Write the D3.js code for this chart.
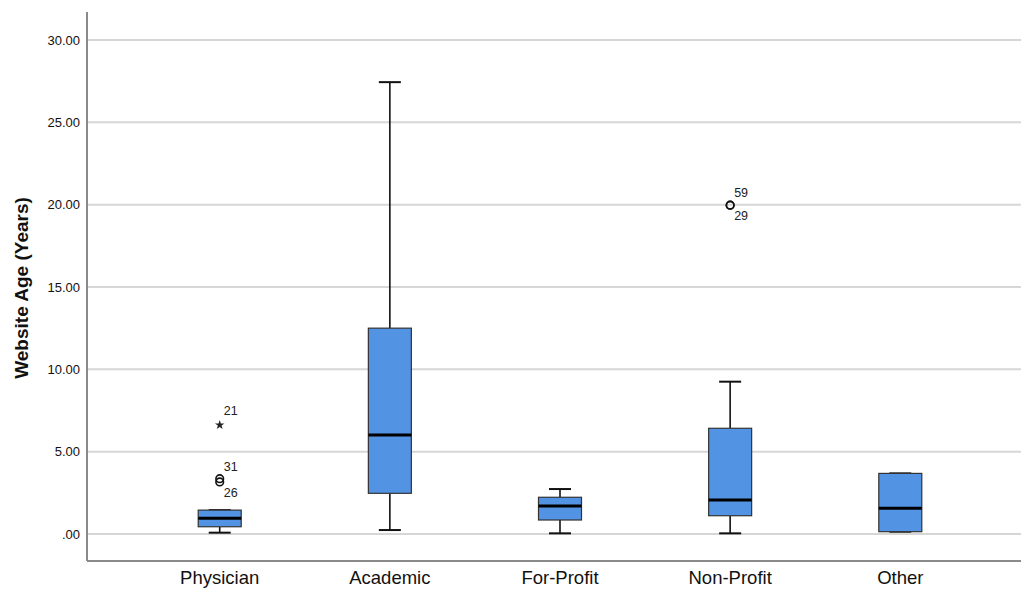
<!DOCTYPE html>
<html>
<head>
<meta charset="utf-8">
<script src="https://cdn.jsdelivr.net/npm/d3@7"></script>
<style>
  html, body { margin: 0; padding: 0; background: #fff; }
  svg { display: block; }
</style>
</head>
<body>
<svg id="chart" width="1021" height="591"></svg>
<script>
// ---- Data ----
const categories = ["Physician", "Academic", "For-Profit", "Non-Profit", "Other"];
const whiskerLow  = [0.08, 0.24, 0.04, 0.04, 0.14];
const q1          = [0.44, 2.47, 0.85, 1.11, 0.14];
const median      = [0.95, 6.01, 1.70, 2.06, 1.56];
const q3          = [1.45, 12.50, 2.23, 6.42, 3.68];
const whiskerHigh = [1.45, 27.44, 2.73, 9.25, 3.68];

const outlierCategory = ["Physician", "Physician", "Physician", "Non-Profit", "Non-Profit"];
const outlierValue    = [6.62, 3.36, 3.16, 19.97, 19.97];
const outlierType     = ["extreme", "outlier", "outlier", "outlier", "outlier"];
const outlierLabel    = ["21", "31", "26", "59", "29"];

const yTicks = [0, 5, 10, 15, 20, 25, 30];
const yTitle = "Website Age (Years)";

// ---- Layout ----
const W = 1021, H = 591;
const plot = { left: 87, right: 1033, top: 12, bottom: 561 };

const svg = d3.select("#chart");

const x = d3.scaleBand()
  .domain(categories)
  .range([plot.left, plot.right])
  .paddingInner(0)
  .paddingOuter(0.28);

const y = d3.scaleLinear()
  .domain([-1.64, 31.7])
  .range([plot.bottom, plot.top]);

const boxW = 43, capW = 22;
const fmt = v => { const s = d3.format(".2f")(v); return s.startsWith("0.") ? s.slice(1) : s; };

// gridlines
svg.append("g")
  .selectAll("line")
  .data(yTicks)
  .join("line")
  .attr("x1", plot.left + 1).attr("x2", W)
  .attr("y1", d => y(d)).attr("y2", d => y(d))
  .attr("stroke", "#d6d6d6").attr("stroke-width", 2);

// y axis
const yAxis = d3.axisLeft(y).tickValues(yTicks).tickFormat(fmt).tickSize(0).tickPadding(7);
const gy = svg.append("g").attr("transform", `translate(${plot.left},0)`).call(yAxis);
gy.select(".domain").remove();
gy.selectAll("text")
  .attr("font-family", "Liberation Sans, Arial, sans-serif")
  .attr("font-size", 13).attr("fill", "#111");

// axis lines
svg.append("line")
  .attr("x1", plot.left).attr("x2", plot.left)
  .attr("y1", plot.top).attr("y2", plot.bottom)
  .attr("stroke", "#8a8a8a").attr("stroke-width", 2);
svg.append("line")
  .attr("x1", plot.left).attr("x2", W)
  .attr("y1", plot.bottom).attr("y2", plot.bottom)
  .attr("stroke", "#8a8a8a").attr("stroke-width", 2);

// x axis labels
const xAxis = d3.axisBottom(x).tickSize(0).tickPadding(10);
const gx = svg.append("g").attr("transform", `translate(0,${plot.bottom})`).call(xAxis);
gx.select(".domain").remove();
gx.selectAll("text")
  .attr("font-family", "Liberation Sans, Arial, sans-serif")
  .attr("font-size", 18.5).attr("fill", "#111");

// y title
svg.append("text")
  .attr("transform", `translate(28,${(y(0) + y(30)) / 2 + 1}) rotate(-90)`)
  .attr("text-anchor", "middle")
  .attr("font-family", "Liberation Sans, Arial, sans-serif")
  .attr("font-weight", "bold")
  .attr("font-size", 19)
  .attr("fill", "#111")
  .text(yTitle);

// boxes
const boxes = categories.map((c, i) => ({
  c, lo: whiskerLow[i], q1: q1[i], med: median[i], q3: q3[i], hi: whiskerHigh[i]
}));
const cx = d => x(d.c) + x.bandwidth() / 2;

const gb = svg.append("g");
gb.selectAll(".stem-lo").data(boxes).join("line")
  .attr("x1", cx).attr("x2", cx)
  .attr("y1", d => y(d.lo)).attr("y2", d => y(d.q1))
  .attr("stroke", "#111").attr("stroke-width", 1.6);
gb.selectAll(".stem-hi").data(boxes).join("line")
  .attr("x1", cx).attr("x2", cx)
  .attr("y1", d => y(d.hi)).attr("y2", d => y(d.q3))
  .attr("stroke", "#111").attr("stroke-width", 1.6);
gb.selectAll(".cap-lo").data(boxes).join("line")
  .attr("x1", d => cx(d) - capW / 2).attr("x2", d => cx(d) + capW / 2)
  .attr("y1", d => y(d.lo)).attr("y2", d => y(d.lo))
  .attr("stroke", "#111").attr("stroke-width", 2);
gb.selectAll(".cap-hi").data(boxes).join("line")
  .attr("x1", d => cx(d) - capW / 2).attr("x2", d => cx(d) + capW / 2)
  .attr("y1", d => y(d.hi)).attr("y2", d => y(d.hi))
  .attr("stroke", "#111").attr("stroke-width", 2);
gb.selectAll(".box").data(boxes).join("rect")
  .attr("x", d => cx(d) - boxW / 2)
  .attr("width", boxW)
  .attr("y", d => y(d.q3))
  .attr("height", d => y(d.q1) - y(d.q3))
  .attr("fill", "#5393e3")
  .attr("stroke", "#333").attr("stroke-width", 1.2);
gb.selectAll(".med").data(boxes).join("line")
  .attr("x1", d => cx(d) - boxW / 2).attr("x2", d => cx(d) + boxW / 2)
  .attr("y1", d => y(d.med)).attr("y2", d => y(d.med))
  .attr("stroke", "#000").attr("stroke-width", 3);

// outliers
const outs = outlierValue.map((v, i) => ({
  c: outlierCategory[i], v, type: outlierType[i], label: outlierLabel[i], i
}));
outs.forEach(o => {
  const mates = outs.filter(p => p !== o && p.c === o.c && Math.abs(p.v - o.v) < 1);
  if (mates.length === 0) { o.pos = "above"; return; }
  const m = mates[0];
  o.pos = (o.v > m.v || (o.v === m.v && o.i < m.i)) ? "above" : "below";
});

const go = svg.append("g");
go.selectAll("circle").data(outs.filter(o => o.type === "outlier")).join("circle")
  .attr("cx", d => cx(d)).attr("cy", d => y(d.v)).attr("r", 3.8)
  .attr("fill", "none").attr("stroke", "#111").attr("stroke-width", 1.6);
go.selectAll(".star").data(outs.filter(o => o.type === "extreme")).join("path")
  .attr("transform", d => `translate(${cx(d)},${y(d.v)})`)
  .attr("d", d3.symbol(d3.symbolStar, 28))
  .attr("fill", "#222");
go.selectAll("text").data(outs).join("text")
  .attr("x", d => cx(d) + 4)
  .attr("y", d => y(d.v) + (d.pos === "above" ? (d.type === "extreme" ? -13 : -11) : 12))
  .attr("dominant-baseline", "middle")
  .attr("font-family", "Liberation Sans, Arial, sans-serif")
  .attr("font-size", 12.5).attr("fill", "#222")
  .text(d => d.label);
</script>
</body>
</html>
